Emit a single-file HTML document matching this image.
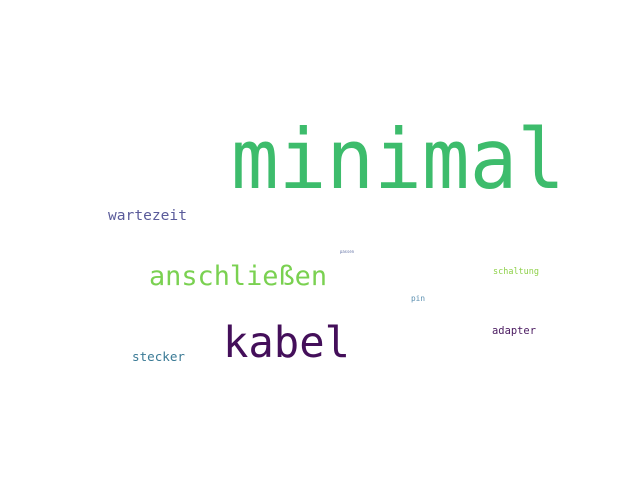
<!DOCTYPE html>
<html><head><meta charset="utf-8"><style>html,body{margin:0;padding:0;background:#fff}svg{display:block}text{font-family:"DejaVu Sans Mono","Liberation Mono",monospace}</style></head>
<body>
<svg width="640" height="480">
<rect width="640" height="480" fill="#fff"/>
<text x="231" y="188" font-size="83" fill="#3dbc6c" textLength="334" lengthAdjust="spacingAndGlyphs">minimal</text>
<text x="108" y="220" font-size="14.5" fill="#5a5b9a" textLength="79" lengthAdjust="spacingAndGlyphs">wartezeit</text>
<text x="149" y="285" font-size="27" fill="#7ad151" textLength="178" lengthAdjust="spacingAndGlyphs">anschließen</text>
<text x="223" y="357" font-size="43" fill="#440f5a" textLength="127" lengthAdjust="spacingAndGlyphs">kabel</text>
<text x="132" y="361" font-size="12.5" fill="#3a7a95" textLength="53" lengthAdjust="spacingAndGlyphs">stecker</text>
<text x="492" y="334" font-size="11" fill="#4a1a60" textLength="44" lengthAdjust="spacingAndGlyphs">adapter</text>
<text x="493" y="274" font-size="8.5" fill="#8fd14a" textLength="46" lengthAdjust="spacingAndGlyphs">schaltung</text>
<text x="411" y="301" font-size="8" fill="#5b8fb0" textLength="14" lengthAdjust="spacingAndGlyphs">pin</text>
<text x="340" y="253" font-size="4" fill="#5a6aa0" textLength="14" lengthAdjust="spacingAndGlyphs">passen</text>
</svg>
</body></html>
